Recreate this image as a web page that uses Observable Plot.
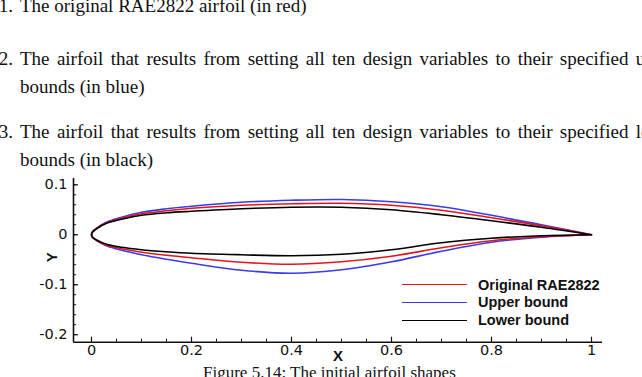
<!DOCTYPE html>
<html>
<head>
<meta charset="utf-8">
<script src="https://cdn.jsdelivr.net/npm/d3@7"></script>
<script src="https://cdn.jsdelivr.net/npm/@observablehq/plot@0.6"></script>
<style>
  html, body { margin: 0; padding: 0; background: #fff; }
  body { width: 642px; height: 377px; overflow: hidden; position: relative; }
  .t { position: absolute; font-family: "Liberation Serif", "Times New Roman", serif; font-size: 19px; line-height: 20px; white-space: nowrap; color: #111; }
  .just { white-space: normal; text-align: justify; text-align-last: justify; }
  .num { text-align: right; width: 40px; }
  #chart { position: absolute; left: 0; top: 170px; }
  .leg { position: absolute; font-family: "Liberation Sans", Arial, sans-serif; font-weight: bold; font-size: 14.5px; line-height: 16px; white-space: nowrap; color: #111; }
  .sw { position: absolute; height: 0; border-top: 1.6px solid; }
</style>
</head>
<body>
<div id="chart"></div>
<div id="texts"></div>
<div id="legend"></div>
<script>
// ---- data ----
const xs = [0, 0.002, 0.01, 0.03, 0.06, 0.1, 0.15, 0.2, 0.3, 0.4, 0.5, 0.6, 0.7, 0.8, 0.9, 1];

const redUpper   = [0, 0.0055, 0.0125, 0.024, 0.033, 0.042, 0.048, 0.053, 0.059, 0.062, 0.063, 0.059, 0.049, 0.034, 0.018, 0];
const redLower   = [0, -0.005, -0.011, -0.021, -0.028, -0.035, -0.041, -0.046, -0.055, -0.059, -0.054, -0.043, -0.026, -0.012, -0.004, 0];

const blueUpper  = [0, 0.0055, 0.013, 0.025, 0.035, 0.045, 0.052, 0.057, 0.065, 0.069, 0.0705, 0.066, 0.056, 0.039, 0.020, 0];
const blueLower  = [0, -0.005, -0.0115, -0.022, -0.031, -0.040, -0.049, -0.057, -0.071, -0.077, -0.070, -0.054, -0.033, -0.015, -0.005, 0];

const blackUpper = [0, 0.0055, 0.012, 0.023, 0.031, 0.039, 0.044, 0.047, 0.052, 0.055, 0.055, 0.050, 0.040, 0.028, 0.015, 0];
const blackLower = [0, -0.005, -0.0105, -0.019, -0.025, -0.030, -0.034, -0.037, -0.040, -0.042, -0.039, -0.030, -0.016, -0.007, -0.002, 0];

const seriesNames  = ["Upper bound", "Original RAE2822", "Lower bound"];
const seriesColors = ["#3a3aee", "#e3161c", "#000000"];
const legendOrder  = ["Original RAE2822", "Upper bound", "Lower bound"];

const xDomain = [-0.036, 1.022];
const yDomain = [-0.215, 0.1126];
const xMajor = [0, 0.2, 0.4, 0.6, 0.8, 1];
const xMinor = [0, 0.05, 0.1, 0.15, 0.2, 0.25, 0.3, 0.35, 0.4, 0.45, 0.5, 0.55, 0.6, 0.65, 0.7, 0.75, 0.8, 0.85, 0.9, 0.95, 1];
const yMajor = [-0.2, -0.1, 0, 0.1];
const yMinor = [-0.2, -0.18, -0.16, -0.14, -0.12, -0.1, -0.08, -0.06, -0.04, -0.02, 0, 0.02, 0.04, 0.06, 0.08, 0.1];

const xLabel = "X";
const yLabel = "Y";

const textLines = [
  {num: "1.", text: "The original RAE2822 airfoil (in red)", top: -4, just: false},
  {num: "2.", text: "The airfoil that results from setting all ten design variables to their specified upper", top: 49, just: true},
  {num: "",   text: "bounds (in blue)", top: 77, just: false},
  {num: "3.", text: "The airfoil that results from setting all ten design variables to their specified lower", top: 122, just: true},
  {num: "",   text: "bounds (in black)", top: 150, just: false}
];
const caption = "Figure 5.14: The initial airfoil shapes";

// ---- build table ----
const shapes = {
  "Upper bound": [blueUpper, blueLower],
  "Original RAE2822": [redUpper, redLower],
  "Lower bound": [blackUpper, blackLower]
};
const rows = [];
for (const name of seriesNames) {
  const [up, lo] = shapes[name];
  for (let i = xs.length - 1; i >= 0; i--) rows.push({x: xs[i], y: up[i], s: name});
  for (let i = 1; i < xs.length; i++) rows.push({x: xs[i], y: lo[i], s: name});
}

const tickFont = {fontSize: 14.5};
const chart = Plot.plot({
  width: 642,
  height: 200,
  marginLeft: 73,
  marginRight: 40,
  marginTop: 8,
  marginBottom: 28.3,
  x: {domain: xDomain},
  y: {domain: yDomain},
  color: {domain: seriesNames, range: seriesColors},
  style: {background: "transparent", fontFamily: "'DejaVu Sans', 'Liberation Sans', sans-serif", color: "#111", overflow: "visible"},
  marks: [
    Plot.line(rows, {x: "x", y: "y", z: "s", stroke: "s", curve: "catmull-rom", strokeWidth: 1.6}),
    Plot.axisX(xMinor, {tickSize: -3, tickFormat: () => "", label: null, strokeWidth: 1}),
    Plot.axisX(xMajor, {tickSize: -5, tickPadding: 8, tickFormat: d => String(d), label: null, strokeWidth: 1.2, ...tickFont}),
    Plot.axisY(yMinor, {tickSize: -3, tickFormat: () => "", label: null, strokeWidth: 1}),
    Plot.axisY(yMajor, {tickSize: -5, tickPadding: 11, tickFormat: d => String(d), label: null, strokeWidth: 1.2, ...tickFont}),
    Plot.ruleY([yDomain[0]], {stroke: "#111", strokeWidth: 1.6}),
    Plot.ruleX([xDomain[0]], {stroke: "#111", strokeWidth: 1.6}),
    Plot.text([xLabel], {frameAnchor: "bottom", dy: 19, fontWeight: "bold", fontSize: 15, fontFamily: "'Liberation Sans', Arial, sans-serif"}),
    Plot.text([yLabel], {frameAnchor: "left", dx: -21, dy: 2, rotate: -90, fontWeight: "bold", fontSize: 15, fontFamily: "'Liberation Sans', Arial, sans-serif"})
  ]
});
document.getElementById("chart").append(chart);

// ---- texts ----
const tdiv = document.getElementById("texts");
for (const l of textLines) {
  if (l.num) {
    const n = document.createElement("div");
    n.className = "t num";
    n.style.left = (13 - 40) + "px";
    n.style.top = l.top + "px";
    n.textContent = l.num;
    tdiv.append(n);
  }
  const d = document.createElement("div");
  d.className = l.just ? "t just" : "t";
  d.style.left = "20px";
  d.style.top = l.top + "px";
  if (l.just) d.style.width = "659px";
  d.textContent = l.text;
  tdiv.append(d);
}
const cap = document.createElement("div");
cap.className = "t";
cap.style.left = "203px";
cap.style.top = "363px";
cap.style.fontSize = "17px";
cap.textContent = caption;
tdiv.append(cap);

// ---- legend ----
const ldiv = document.getElementById("legend");
legendOrder.forEach((name, i) => {
  const cy = 285 + i * 17.7;
  const sw = document.createElement("div");
  sw.className = "sw";
  sw.style.left = "402px";
  sw.style.width = "65px";
  sw.style.top = (cy - 0.8) + "px";
  sw.style.borderTopColor = seriesColors[seriesNames.indexOf(name)];
  ldiv.append(sw);
  const lt = document.createElement("div");
  lt.className = "leg";
  lt.style.left = "478px";
  lt.style.top = (cy - 8.5) + "px";
  lt.textContent = name;
  ldiv.append(lt);
});
</script>
</body>
</html>
